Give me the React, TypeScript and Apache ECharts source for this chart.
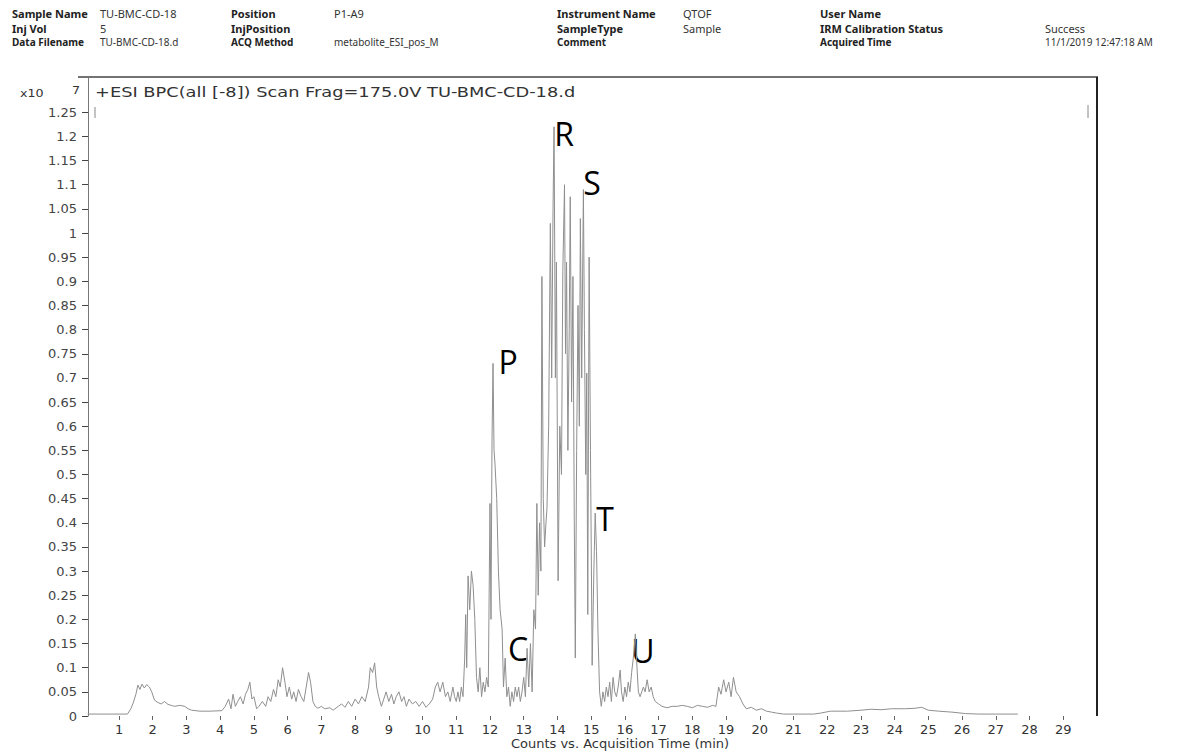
import React, { useEffect, useRef } from "react";
import * as echarts from "echarts";

// Tick labels
const yTickLabels = [0, 0.05, 0.1, 0.15, 0.2, 0.25, 0.3, 0.35, 0.4, 0.45, 0.5, 0.55, 0.6, 0.65, 0.7, 0.75, 0.8, 0.85, 0.9, 0.95, 1, 1.05, 1.1, 1.15, 1.2, 1.25];
const xTickLabels = [1, 2, 3, 4, 5, 6, 7, 8, 9, 10, 11, 12, 13, 14, 15, 16, 17, 18, 19, 20, 21, 22, 23, 24, 25, 26, 27, 28, 29];

// Base peak chromatogram (counts x10^7 vs acquisition time, min)
const timesEarly = [0.07, 1.25, 1.35, 1.42, 1.5, 1.56, 1.62, 1.68, 1.75, 1.82, 1.9, 1.97, 2.05, 2.15, 2.25, 2.35, 2.45, 2.55, 2.65, 2.8, 2.95, 3.05, 3.15, 3.4, 3.7, 4.05, 4.15, 4.25, 4.32, 4.38, 4.45, 4.52, 4.6, 4.68, 4.75, 4.82, 4.88, 4.94, 5.0, 5.08, 5.15, 5.25, 5.35, 5.42, 5.5, 5.58, 5.65, 5.72, 5.78, 5.85, 5.92, 5.98, 6.05, 6.12, 6.18, 6.25, 6.32, 6.4, 6.48, 6.55, 6.62, 6.68, 6.75, 6.82, 6.9, 7.0, 7.1, 7.25, 7.35, 7.5, 7.6, 7.7, 7.8, 7.9, 8.0, 8.1, 8.2, 8.3, 8.4, 8.45, 8.52, 8.58, 8.64, 8.7, 8.78, 8.85, 8.92, 9.0, 9.08, 9.15, 9.22, 9.3, 9.38, 9.45, 9.52, 9.6, 9.7, 9.8, 9.9, 10.0, 10.1, 10.2, 10.3, 10.38, 10.45, 10.52, 10.6, 10.68, 10.75, 10.82, 10.9, 10.95];
const valuesEarly = [0.004, 0.004, 0.015, 0.027, 0.045, 0.064, 0.055, 0.066, 0.058, 0.065, 0.06, 0.05, 0.033, 0.028, 0.025, 0.03, 0.024, 0.022, 0.02, 0.022, 0.02, 0.015, 0.012, 0.01, 0.01, 0.011, 0.02, 0.035, 0.015, 0.045, 0.02, 0.03, 0.04, 0.025, 0.045, 0.055, 0.07, 0.035, 0.04, 0.015, 0.02, 0.03, 0.02, 0.04, 0.03, 0.055, 0.04, 0.075, 0.06, 0.1, 0.07, 0.04, 0.06, 0.035, 0.05, 0.03, 0.055, 0.04, 0.03, 0.06, 0.09, 0.07, 0.03, 0.02, 0.016, 0.02, 0.015, 0.017, 0.012, 0.02, 0.025, 0.018, 0.03, 0.02, 0.035, 0.025, 0.04, 0.03, 0.06, 0.1, 0.09, 0.11, 0.06, 0.04, 0.02, 0.035, 0.05, 0.03, 0.045, 0.025, 0.04, 0.05, 0.03, 0.04, 0.02, 0.035, 0.025, 0.03, 0.02, 0.03, 0.018, 0.025, 0.035, 0.06, 0.07, 0.05, 0.07, 0.04, 0.05, 0.03, 0.06, 0.04];

const timesMain = [11.0, 11.05, 11.1, 11.15, 11.2, 11.25, 11.28, 11.31, 11.35, 11.4, 11.45, 11.5, 11.55, 11.6, 11.65, 11.7, 11.75, 11.8, 11.85, 11.9, 11.95, 12.0, 12.03, 12.06, 12.09, 12.12, 12.15, 12.2, 12.25, 12.3, 12.36, 12.4, 12.45, 12.5, 12.55, 12.6, 12.65, 12.7, 12.75, 12.8, 12.85, 12.9, 12.95, 13.0, 13.05, 13.1, 13.15, 13.2, 13.25, 13.3, 13.35, 13.39, 13.43, 13.47, 13.51, 13.54, 13.58, 13.62, 13.66, 13.69, 13.74, 13.79, 13.83, 13.87, 13.9, 13.94, 13.97, 14.02, 14.07, 14.12, 14.16, 14.21, 14.24, 14.27, 14.31, 14.35, 14.38, 14.42, 14.46, 14.5, 14.53, 14.57, 14.61, 14.65, 14.68, 14.72, 14.77, 14.8, 14.84, 14.87, 14.9, 14.94, 14.98, 15.03, 15.08, 15.12, 15.16, 15.2, 15.25, 15.3, 15.35, 15.4, 15.45, 15.5, 15.55, 15.6, 15.65, 15.7, 15.75, 15.8, 15.86, 15.9, 15.95, 16.0, 16.05, 16.1, 16.15, 16.2, 16.25, 16.31, 16.36, 16.4, 16.45, 16.5, 16.55, 16.6, 16.66, 16.72, 16.78, 16.84, 16.9];
const valuesMain = [0.03, 0.05, 0.03, 0.06, 0.04, 0.12, 0.21, 0.1, 0.29, 0.22, 0.3, 0.27, 0.2, 0.08, 0.05, 0.1, 0.04, 0.07, 0.05, 0.08, 0.06, 0.44, 0.2, 0.57, 0.73, 0.55, 0.52, 0.45, 0.3, 0.22, 0.18, 0.06, 0.12, 0.04, 0.06, 0.02, 0.05, 0.03, 0.06, 0.04, 0.06, 0.03, 0.05, 0.08, 0.04, 0.14, 0.06, 0.15, 0.05, 0.22, 0.18, 0.44, 0.25, 0.4, 0.3, 0.91, 0.45, 0.35, 0.4, 0.43, 0.6, 1.02, 0.7, 1.05, 1.22, 0.7, 0.94, 0.28, 0.6, 0.5, 0.92, 1.1, 0.75, 0.94, 0.55, 0.8, 1.075, 0.65, 0.91, 0.4, 0.12, 0.55, 0.85, 0.6, 1.03, 0.7, 1.09, 0.8, 0.5, 0.71, 0.21, 0.95, 0.55, 0.105, 0.3, 0.42, 0.34, 0.18, 0.05, 0.02, 0.05, 0.03, 0.06, 0.04, 0.07, 0.03, 0.08, 0.05, 0.04, 0.06, 0.095, 0.05, 0.03, 0.06, 0.04, 0.07, 0.05, 0.09, 0.12, 0.17, 0.1, 0.05, 0.04, 0.05, 0.06, 0.05, 0.075, 0.05, 0.06, 0.04, 0.03];

const timesLate = [17.0, 17.1, 17.25, 17.4, 17.55, 17.7, 17.85, 18.0, 18.15, 18.3, 18.45, 18.6, 18.7, 18.78, 18.85, 18.93, 19.0, 19.08, 19.15, 19.22, 19.3, 19.4, 19.5, 19.6, 19.75, 19.9, 20.05, 20.2, 20.35, 20.5, 20.7, 21.0, 21.6, 21.8, 22.1, 22.6, 23.0, 23.3, 23.6, 23.9, 24.3, 24.6, 24.8, 25.0, 25.3, 25.7, 26.1, 26.5, 27.0, 27.65];
const valuesLate = [0.025, 0.02, 0.017, 0.02, 0.02, 0.022, 0.02, 0.017, 0.022, 0.02, 0.018, 0.022, 0.02, 0.06, 0.045, 0.075, 0.05, 0.07, 0.04, 0.08, 0.05, 0.04, 0.025, 0.015, 0.018, 0.012, 0.015, 0.01, 0.008, 0.006, 0.004, 0.004, 0.004, 0.006, 0.01, 0.01, 0.012, 0.014, 0.013, 0.015, 0.015, 0.016, 0.018, 0.012, 0.01, 0.008, 0.005, 0.004, 0.004, 0.004];

// Peak annotations
const peakLetters = ["R", "S", "P", "T", "C", "U"];

// Header fields
const headerRow1 = ["Sample Name", "TU-BMC-CD-18", "Position", "P1-A9", "Instrument Name", "QTOF", "User Name", ""];
const headerRow2 = ["Inj Vol", "5", "InjPosition", "", "SampleType", "Sample", "IRM Calibration Status", "Success"];
const headerRow3 = ["Data Filename", "TU-BMC-CD-18.d", "ACQ Method", "metabolite_ESI_pos_M", "Comment", "", "Acquired Time", "11/1/2019 12:47:18 AM"];

export default function App() {
  const ref = useRef<HTMLDivElement>(null);

  useEffect(() => {
    const chart = echarts.init(ref.current!, null, { renderer: "svg" });
    const times = [...timesEarly, ...timesMain, ...timesLate];
    const values = [...valuesEarly, ...valuesMain, ...valuesLate];
    const data = times.map((t, i) => [t, values[i]]);

    const colX = [12, 100, 231, 334, 557, 683, 820, 1045];
    const rowY = [13, 28, 42];
    const headerTexts: any[] = [];
    [headerRow1, headerRow2, headerRow3].forEach((row, r) => {
      row.forEach((txt, c) => {
        if (!txt) return;
        headerTexts.push({
          type: "text",
          x: colX[c],
          y: rowY[r],
          style: {
            text: txt,
            fill: c % 2 === 0 ? "#222" : "#333",
            font: `${c % 2 === 0 ? "bold " : ""}${r === 2 ? 10 : 11}px "Noto Sans", sans-serif`,
            textVerticalAlign: "middle",
          },
        });
      });
    });

    const letterPos = [
      [564, 133],
      [592, 182],
      [508, 361],
      [605, 518],
      [518, 648],
      [643, 650],
    ];
    const letterTexts = peakLetters.map((l, i) => ({
      type: "text",
      x: letterPos[i][0],
      y: letterPos[i][1],
      style: {
        text: l,
        fill: "#000",
        font: '32px "Open Sans", sans-serif',
        textAlign: "center",
        textVerticalAlign: "middle",
      },
    }));

    chart.setOption({
      animation: false,
      backgroundColor: "#fff",
      grid: { left: 88, right: 89, top: 77, bottom: 36, containLabel: false },
      xAxis: {
        type: "value",
        min: 0.08,
        max: 30,
        axisLine: { show: false },
        splitLine: { show: false },
        axisTick: {
          show: true,
          inside: false,
          length: 4,
          lineStyle: { color: "#666" },
          customValues: xTickLabels,
        },
        axisLabel: {
          customValues: xTickLabels,
          margin: 7,
          color: "#333",
          fontSize: 13,
          fontFamily: '"DejaVu Sans", sans-serif',
        },
      },
      yAxis: {
        type: "value",
        min: 0,
        max: 1.323,
        splitLine: { show: false },
        axisLine: { show: true, lineStyle: { color: "#777", width: 1 } },
        axisTick: {
          show: true,
          inside: false,
          length: 6,
          lineStyle: { color: "#444" },
          customValues: yTickLabels,
        },
        axisLabel: {
          customValues: yTickLabels,
          margin: 11,
          color: "#444",
          fontSize: 13,
          fontFamily: '"DejaVu Sans", sans-serif',
          formatter: (v: number) => String(+v.toFixed(2)),
        },
      },
      series: [
        {
          type: "line",
          data,
          showSymbol: false,
          symbol: "none",
          lineStyle: { color: "#8f8f8f", width: 1 },
          silent: true,
        },
      ],
      graphic: [
        ...headerTexts,
        { type: "line", shape: { x1: 78, y1: 77, x2: 1098, y2: 77 }, style: { stroke: "#444", lineWidth: 1.5 } },
        { type: "line", shape: { x1: 1097, y1: 77, x2: 1097, y2: 716 }, style: { stroke: "#222", lineWidth: 2 } },
        { type: "line", shape: { x1: 95, y1: 107, x2: 95, y2: 118 }, style: { stroke: "#888", lineWidth: 1 } },
        { type: "line", shape: { x1: 1088, y1: 105, x2: 1088, y2: 118 }, style: { stroke: "#888", lineWidth: 1 } },
        {
          type: "text",
          x: 20,
          y: 93,
          scaleX: 1.15,
          style: { text: "x10", fill: "#333", font: '11px "DejaVu Sans", sans-serif', textVerticalAlign: "middle" },
        },
        {
          type: "text",
          x: 72,
          y: 90,
          scaleX: 1.15,
          style: { text: "7", fill: "#333", font: '11px "DejaVu Sans", sans-serif', textVerticalAlign: "middle" },
        },
        {
          type: "text",
          x: 95,
          y: 92,
          scaleX: 1.27,
          style: {
            text: "+ESI BPC(all [-8]) Scan Frag=175.0V TU-BMC-CD-18.d",
            fill: "#333",
            font: '14px "DejaVu Sans", sans-serif',
            textVerticalAlign: "middle",
          },
        },
        {
          type: "text",
          x: 620,
          y: 743,
          style: {
            text: "Counts vs. Acquisition Time (min)",
            fill: "#333",
            font: '13px "DejaVu Sans", sans-serif',
            textAlign: "center",
            textVerticalAlign: "middle",
          },
        },
        ...letterTexts,
      ],
    });
    return () => chart.dispose();
  }, []);

  return (
    <div
      ref={ref}
      style={{ position: "fixed", left: 0, top: 0, width: 1186, height: 752, background: "#fff" }}
    />
  );
}
